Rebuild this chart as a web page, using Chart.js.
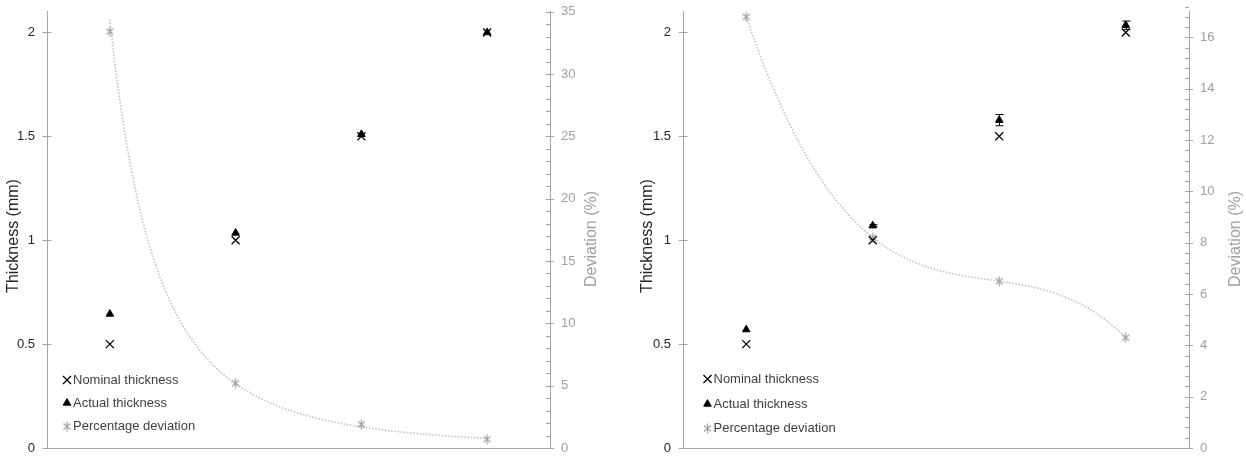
<!DOCTYPE html>
<html lang="en">
<head>
    <meta charset="UTF-8">
    <title>Thickness and deviation</title>
    <script src="https://cdn.jsdelivr.net/npm/chart.js"></script>
    <style>
        body { margin: 0; background: #fff; }
        .panel { position: absolute; top: 0; width: 623px; height: 459px; }
    </style>
</head>
<body>
    <div class="panel" style="left:0"><canvas id="chartA" width="623" height="459"></canvas></div>
    <div class="panel" style="left:623px"><canvas id="chartB" width="623" height="459"></canvas></div>
    <script>
        // samples (nominal thickness, mm)
        const categories = ["0.5", "1.0", "1.5", "2.0"];

        // left panel
        const nominalA = [0.5, 1.0, 1.5, 2.0];
        const actualA = [0.645, 1.035, 1.51, 2.0];
        const actualErrA = [0, 0, 0, 0];
        const deviationA = [33.4, 5.2, 1.9, 0.7];
        const deviationTicksA = [0, 5, 10, 15, 20, 25, 30, 35];

        // right panel
        const nominalB = [0.5, 1.0, 1.5, 2.0];
        const actualB = [0.57, 1.07, 1.578, 2.035];
        const actualErrB = [0, 0.005, 0.027, 0.02];
        const deviationB = [16.8, 8.2, 6.5, 4.3];
        const deviationTicksB = [0, 2, 4, 6, 8, 10, 12, 14, 16];

        const thicknessTicks = [0, 0.5, 1, 1.5, 2];
        const legendLabels = ["Nominal thickness", "Actual thickness", "Percentage deviation"];

        const FONT = '"Liberation Sans", Arial, sans-serif';
        const AXIS = "#a6a6a6";
        const DARK = "#262626";
        const GREY = "#a0a0a0";
        const CURVE = "#c4c4c4";

        Chart.defaults.font.family = FONT;
        Chart.defaults.font.size = 13;

        function asterisk(color) {
            let c = document.createElement("canvas");
            c.width = 11; c.height = 11;
            let g = c.getContext("2d");
            g.strokeStyle = color;
            g.lineWidth = 1.2;
            g.beginPath();
            g.moveTo(2, 2.5); g.lineTo(9, 8.5);
            g.moveTo(9, 2.5); g.lineTo(2, 8.5);
            g.moveTo(5.5, 0.5); g.lineTo(5.5, 10.5);
            g.stroke();
            return c;
        }
        const starImg = asterisk(GREY);

        // trendlines, fitted to the deviation values with x = 1..n
        function powerFit(values) {
            let n = values.length, sx = 0, sy = 0, sxx = 0, sxy = 0;
            values.forEach((v, i) => {
                let lx = Math.log(i + 1), ly = Math.log(v);
                sx += lx; sy += ly; sxx += lx * lx; sxy += lx * ly;
            });
            let b = (n * sxy - sx * sy) / (n * sxx - sx * sx);
            let a = Math.exp((sy - b * sx) / n);
            return x => a * Math.pow(x, b);
        }

        function polyFit(values, deg) {
            let m = deg + 1;
            let A = [], B = [];
            for (let r = 0; r < m; r++) {
                A.push(new Array(m).fill(0));
                B.push(0);
            }
            values.forEach((v, i) => {
                let x = i + 1;
                for (let r = 0; r < m; r++) {
                    for (let c = 0; c < m; c++) A[r][c] += Math.pow(x, r + c);
                    B[r] += v * Math.pow(x, r);
                }
            });
            for (let c = 0; c < m; c++) {
                for (let r = c + 1; r < m; r++) {
                    let f = A[r][c] / A[c][c];
                    for (let k = c; k < m; k++) A[r][k] -= f * A[c][k];
                    B[r] -= f * B[c];
                }
            }
            let coef = new Array(m).fill(0);
            for (let r = m - 1; r >= 0; r--) {
                let s = B[r];
                for (let k = r + 1; k < m; k++) s -= A[r][k] * coef[k];
                coef[r] = s / A[r][r];
            }
            return x => coef.reduce((acc, c, k) => acc + c * Math.pow(x, k), 0);
        }

        function makeChart(id, p) {
            let extras = {
                id: "extras",
                beforeDatasetsDraw(chart) {
                    let ctx = chart.ctx, area = chart.chartArea;
                    let xs = chart.scales.x, y1 = chart.scales.y1;
                    let f = p.trend === "power" ? powerFit(p.deviation) : polyFit(p.deviation, 3);
                    let n = p.deviation.length;
                    ctx.save();
                    ctx.beginPath();
                    ctx.rect(area.left, area.top, area.right - area.left, area.bottom - area.top);
                    ctx.clip();
                    ctx.strokeStyle = CURVE;
                    ctx.lineWidth = 1.6;
                    ctx.setLineDash([1.6, 1.6]);
                    ctx.beginPath();
                    for (let k = 0; k <= 300; k++) {
                        let x = 1 + (n - 1) * k / 300;
                        let px = xs.getPixelForValue(x - 1);
                        let py = y1.getPixelForValue(f(x));
                        if (k === 0) ctx.moveTo(px, py); else ctx.lineTo(px, py);
                    }
                    ctx.stroke();
                    ctx.restore();
                },
                afterDatasetsDraw(chart) {
                    let ctx = chart.ctx;
                    let ys = chart.scales.y;
                    let meta = chart.getDatasetMeta(1);
                    ctx.save();
                    ctx.strokeStyle = "#000";
                    ctx.lineWidth = 1;
                    p.errors.forEach((e, i) => {
                        if (!e) return;
                        let x = Math.round(meta.data[i].x) + 0.5;
                        let top = ys.getPixelForValue(p.actual[i] + e);
                        let bot = ys.getPixelForValue(p.actual[i] - e);
                        ctx.beginPath();
                        ctx.moveTo(x, top); ctx.lineTo(x, bot);
                        ctx.moveTo(x - 4, top); ctx.lineTo(x + 4, top);
                        ctx.moveTo(x - 4, bot); ctx.lineTo(x + 4, bot);
                        ctx.stroke();
                    });
                    ctx.restore();
                },
                afterDraw(chart) {
                    let ctx = chart.ctx;
                    let area = chart.chartArea;
                    let ys = chart.scales.y, y1 = chart.scales.y1;
                    ctx.save();
                    // tick marks
                    ctx.strokeStyle = AXIS;
                    ctx.lineWidth = 1;
                    ctx.beginPath();
                    ys.ticks.forEach(t => {
                        let py = Math.round(ys.getPixelForValue(t.value)) + 0.5;
                        ctx.moveTo(area.left - 4.5, py); ctx.lineTo(area.left + 4.5, py);
                    });
                    y1.ticks.forEach(t => {
                        let py = Math.round(y1.getPixelForValue(t.value)) + 0.5;
                        ctx.moveTo(area.right - 4, py); ctx.lineTo(area.right + 4, py);
                    });
                    let n = Math.round(y1.max / p.minorStep);
                    for (let k = 0; k <= n; k++) {
                        let py = Math.round(y1.getPixelForValue(k * p.minorStep)) + 0.5;
                        ctx.moveTo(area.right - 4, py); ctx.lineTo(area.right, py);
                    }
                    ctx.stroke();

                    // axis titles
                    ctx.font = "16px " + FONT;
                    ctx.textAlign = "center";
                    ctx.textBaseline = "middle";
                    ctx.fillStyle = DARK;
                    ctx.save();
                    ctx.translate(p.titleLeftX, 236);
                    ctx.rotate(-Math.PI / 2);
                    ctx.fillText("Thickness (mm)", 0, 0);
                    ctx.restore();
                    ctx.fillStyle = GREY;
                    ctx.save();
                    ctx.translate(p.titleRightX, 239);
                    ctx.rotate(-Math.PI / 2);
                    ctx.fillText("Deviation (%)", 0, 0);
                    ctx.restore();

                    // legend inside the plot
                    ctx.font = "13px " + FONT;
                    ctx.textAlign = "left";
                    chart.data.datasets.forEach((ds, i) => {
                        let ly = p.legendY[i];
                        ctx.fillStyle = ds.backgroundColor;
                        ctx.strokeStyle = ds.borderColor;
                        ctx.lineWidth = ds.pointBorderWidth;
                        ctx.setLineDash([]);
                        Chart.helpers.drawPoint(ctx, {
                            pointStyle: ds.pointStyle, radius: ds.pointRadius,
                            rotation: 0, borderWidth: ds.pointBorderWidth
                        }, p.legendX, ly);
                        ctx.fillStyle = "#404040";
                        ctx.fillText(legendLabels[i], p.legendX + 6, ly);
                    });
                    ctx.restore();
                }
            };

            let fitY = (s, w) => { s.width = w; s.paddingTop = 0; s.paddingBottom = 0; };

            return new Chart(document.getElementById(id), {
                type: "line",
                data: {
                    labels: categories,
                    datasets: [{
                        label: legendLabels[0],
                        data: p.nominal,
                        showLine: false,
                        pointStyle: "crossRot",
                        pointRadius: 5.7,
                        pointBorderWidth: 1.3,
                        borderColor: "#000",
                        backgroundColor: "#000",
                        yAxisID: "y"
                    }, {
                        label: legendLabels[1],
                        data: p.actual,
                        showLine: false,
                        pointStyle: "triangle",
                        pointRadius: 4.4,
                        pointBorderWidth: 1,
                        borderColor: "#000",
                        backgroundColor: "#000",
                        yAxisID: "y"
                    }, {
                        label: legendLabels[2],
                        data: p.deviation,
                        showLine: false,
                        pointStyle: starImg,
                        pointRadius: 5,
                        pointBorderWidth: 1,
                        borderColor: CURVE,
                        backgroundColor: GREY,
                        yAxisID: "y1"
                    }]
                },
                options: {
                    responsive: false,
                    animation: false,
                    layout: { padding: { top: 11.7, left: 0, right: 0, bottom: 0 } },
                    plugins: { legend: { display: false }, tooltip: { enabled: false } },
                    scales: {
                        x: {
                            type: "category",
                            offset: true,
                            ticks: { display: false },
                            grid: { display: false, drawTicks: false },
                            border: { display: true, color: AXIS },
                            afterFit: s => { s.height = 11; }
                        },
                        y: {
                            position: "left",
                            min: 0, max: 2.1,
                            afterBuildTicks: s => { s.ticks = thicknessTicks.map(v => ({ value: v })); },
                            ticks: { color: DARK, padding: 12, font: { size: 13 }, callback: v => String(v) },
                            grid: { display: false, drawTicks: false },
                            border: { display: true, color: AXIS },
                            afterFit: s => fitY(s, p.leftW)
                        },
                        y1: {
                            position: "right",
                            min: 0, max: p.devMax,
                            afterBuildTicks: s => { s.ticks = p.devTicks.map(v => ({ value: v })); },
                            ticks: { color: GREY, padding: 11, font: { size: 13 }, callback: v => String(v) },
                            grid: { display: false, drawTicks: false },
                            border: { display: true, color: AXIS },
                            afterFit: s => fitY(s, p.rightW)
                        }
                    }
                },
                plugins: [extras]
            });
        }

        makeChart("chartA", {
            nominal: nominalA, actual: actualA, errors: actualErrA, deviation: deviationA,
            devTicks: deviationTicksA, devMax: 35, minorStep: 1,
            leftW: 47, rightW: 73, titleLeftX: 14, titleRightX: 592,
            legendX: 67, legendY: [380, 403, 426.5],
            trend: "power"
        });

        makeChart("chartB", {
            nominal: nominalB, actual: actualB, errors: actualErrB, deviation: deviationB,
            devTicks: deviationTicksB, devMax: 17, minorStep: 0.4,
            leftW: 60, rightW: 57, titleLeftX: 25, titleRightX: 1236 - 623,
            legendX: 707.5 - 623, legendY: [379, 404, 428.5],
            trend: "poly"
        });
    </script>
</body>
</html>
